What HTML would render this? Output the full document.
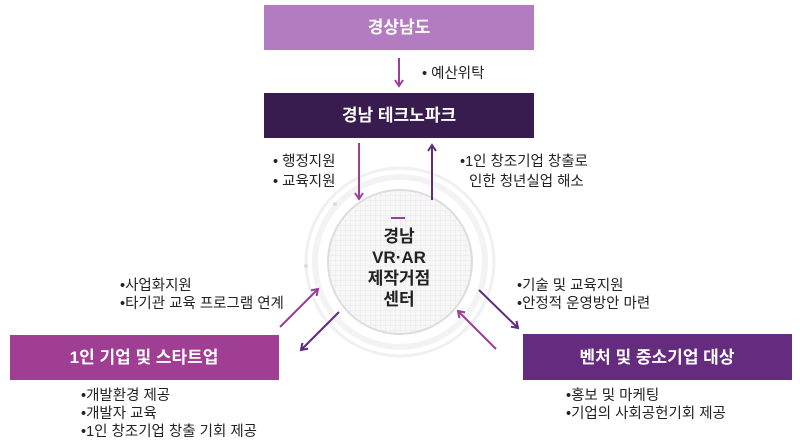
<!DOCTYPE html>
<html><head><meta charset="utf-8"><style>
html,body{margin:0;padding:0;background:#fff;width:800px;height:444px;overflow:hidden}
svg{display:block}
text{font-family:"Liberation Sans","Noto Sans CJK KR",sans-serif}
.lb{font-size:14.5px;fill:#222}
.bx{font-size:17px;fill:#fff;font-weight:bold;text-anchor:middle}
</style></head><body>
<svg width="800" height="444" viewBox="0 0 800 444">
<defs>
<pattern id="g" width="5" height="5" patternUnits="userSpaceOnUse"><path d="M5 0H0V5" fill="none" stroke="#ddd" stroke-width="0.6"/></pattern>
<marker id="a1" markerWidth="10" markerHeight="10" refX="7" refY="5" orient="auto" markerUnits="userSpaceOnUse"><path d="M1 1L7 5L1 9" fill="none" stroke="#9a3f98" stroke-width="2"/></marker>
<marker id="a2" markerWidth="10" markerHeight="10" refX="7" refY="5" orient="auto" markerUnits="userSpaceOnUse"><path d="M1 1L7 5L1 9" fill="none" stroke="#5e2a80" stroke-width="2"/></marker>
</defs>
<circle cx="400" cy="262" r="94" fill="none" stroke="#f0f0f0" stroke-width="3"/>
<circle cx="400" cy="262" r="85" fill="none" stroke="#f3f3f3" stroke-width="6"/>
<circle cx="400" cy="262" r="72" fill="#f7f7f7"/>
<circle cx="400" cy="262" r="72" fill="url(#g)" stroke="#ddd" stroke-width="2"/>
<circle cx="335" cy="204" r="2" fill="#ddd"/><circle cx="306" cy="266" r="2" fill="#ddd"/>
<line x1="391" y1="218" x2="405" y2="218" stroke="#9a3f98" stroke-width="2"/>
<g font-size="17" font-weight="bold" fill="#222" text-anchor="middle">
<text x="399" y="242">경남</text><text x="399" y="263">VR·AR</text><text x="399" y="284">제작거점</text><text x="399" y="305">센터</text></g>
<rect x="264" y="5" width="270" height="45" fill="#b47cc0"/>
<text class="bx" x="399" y="33">경상남도</text>
<rect x="264" y="93" width="270" height="45" fill="#391c4f"/>
<text class="bx" x="399" y="121">경남 테크노파크</text>
<rect x="10" y="335" width="269" height="45" fill="#9f3e93"/>
<text class="bx" x="144" y="363">1인 기업 및 스타트업</text>
<rect x="523" y="334" width="269" height="46" fill="#652b7e"/>
<text class="bx" x="657" y="363">벤처 및 중소기업 대상</text>
<g stroke-width="2" fill="none">
<line x1="399" y1="58" x2="399" y2="86" stroke="#9a3f98" marker-end="url(#a1)"/>
<line x1="359" y1="143" x2="359" y2="199" stroke="#9a3f98" marker-end="url(#a1)"/>
<line x1="432" y1="200" x2="432" y2="145" stroke="#5e2a80" marker-end="url(#a2)"/>
<line x1="280" y1="327" x2="318" y2="289" stroke="#9a3f98" marker-end="url(#a1)"/>
<line x1="339" y1="312" x2="301" y2="350" stroke="#5e2a80" marker-end="url(#a2)"/>
<line x1="479" y1="290" x2="518" y2="328" stroke="#5e2a80" marker-end="url(#a2)"/>
<line x1="496" y1="349" x2="458" y2="311" stroke="#9a3f98" marker-end="url(#a1)"/>
</g>
<g class="lb">
<text x="422" y="78">• 예산위탁</text>
<text x="273" y="166">• 행정지원</text><text x="273" y="186">• 교육지원</text>
<text x="460" y="166">•1인 창조기업 창출로</text><text x="469" y="186">인한 청년실업 해소</text>
<text x="120" y="290">•사업화지원</text><text x="120" y="308">•타기관 교육 프로그램 연계</text>
<text x="517" y="290">•기술 및 교육지원</text><text x="517" y="308">•안정적 운영방안 마련</text>
<text x="81" y="400">•개발환경 제공</text><text x="81" y="418">•개발자 교육</text><text x="81" y="436">•1인 창조기업 창출 기회 제공</text>
<text x="566" y="400">•홍보 및 마케팅</text><text x="566" y="418">•기업의 사회공헌기회 제공</text>
</g>
</svg>
</body></html>
